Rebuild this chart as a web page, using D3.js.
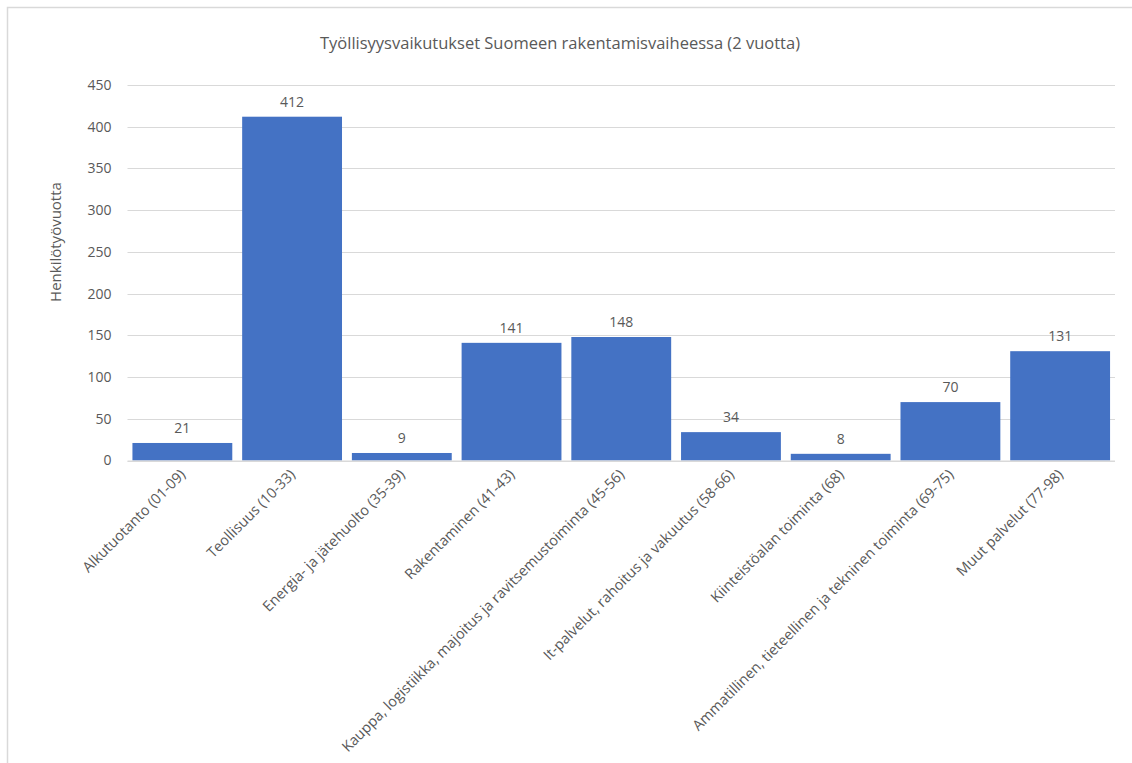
<!DOCTYPE html>
<html>
<head>
<meta charset="utf-8">
<script src="https://cdn.jsdelivr.net/npm/d3@7"></script>
<style>
  html, body { margin: 0; padding: 0; background: #fff; }
  svg { display: block; }
  text { font-family: "Open Sans", "Noto Sans", sans-serif; fill: #595959; }
</style>
</head>
<body>
<script>
const categories = [
  "Alkutuotanto (01-09)",
  "Teollisuus (10-33)",
  "Energia- ja jätehuolto (35-39)",
  "Rakentaminen (41-43)",
  "Kauppa, logistiikka, majoitus ja ravitsemustoiminta (45-56)",
  "It-palvelut, rahoitus ja vakuutus (58-66)",
  "Kiinteistöalan toiminta (68)",
  "Ammatillinen, tieteellinen ja tekninen toiminta (69-75)",
  "Muut palvelut (77-98)"
];
const values = [21, 412, 9, 141, 148, 34, 8, 70, 131];
const yTicks = [0, 50, 100, 150, 200, 250, 300, 350, 400, 450];
const title = "Työllisyysvaikutukset Suomeen rakentamisvaiheessa (2 vuotta)";
const yTitle = "Henkilötyövuotta";

const W = 1132, H = 763;
const plot = { left: 127.5, right: 1115, top: 85, bottom: 460.5 };

const svg = d3.select("body").append("svg").attr("width", W).attr("height", H);

// outer chart border (only top and left visible in frame)
svg.append("rect")
  .attr("x", 7.5).attr("y", 7.5)
  .attr("width", W + 20).attr("height", H + 20)
  .attr("fill", "none").attr("stroke", "#d9d9d9").attr("stroke-width", 1.5);

const x = d3.scaleBand().domain(categories).range([plot.left, plot.right]).paddingInner(0.09).paddingOuter(0.045);
const y = d3.scaleLinear().domain([0, 450]).range([plot.bottom, plot.top]);

// gridlines
svg.append("g").selectAll("line").data(yTicks).join("line")
  .attr("x1", plot.left).attr("x2", plot.right)
  .attr("y1", d => Math.round(y(d)) + 0.5).attr("y2", d => Math.round(y(d)) + 0.5)
  .attr("stroke", "#d9d9d9").attr("stroke-width", 1);

// y axis labels
const yAxis = d3.axisLeft(y).tickValues(yTicks).tickSize(0).tickPadding(0);
const gy = svg.append("g").attr("transform", `translate(${plot.left - 16},0)`).call(yAxis);
gy.select(".domain").remove();
gy.selectAll("text").attr("font-size", 14).attr("fill", "#595959")
  .style("font-family", '"Open Sans", sans-serif');

// bars
svg.append("g").selectAll("rect").data(values).join("rect")
  .attr("x", (d, i) => x(categories[i]))
  .attr("width", x.bandwidth())
  .attr("y", d => y(d))
  .attr("height", d => y(0) - y(d))
  .attr("fill", "#4472c4");

// baseline
svg.append("line")
  .attr("x1", plot.left).attr("x2", plot.right)
  .attr("y1", y(0) + 0.5).attr("y2", y(0) + 0.5)
  .attr("stroke", "#d9d9d9").attr("stroke-width", 1);

// value labels
svg.append("g").selectAll("text").data(values).join("text")
  .attr("x", (d, i) => x(categories[i]) + x.bandwidth() / 2)
  .attr("y", d => y(d) - 10)
  .attr("text-anchor", "middle")
  .attr("font-size", 14)
  .text(d => d);

// x axis labels
const xAxis = d3.axisBottom(x).tickSize(0).tickPadding(0);
const gx = svg.append("g").attr("transform", `translate(0,${plot.bottom})`).call(xAxis);
gx.select(".domain").remove();
gx.selectAll(".tick text")
  .attr("font-size", 14.5).attr("fill", "#595959")
  .style("font-family", '"Open Sans", sans-serif')
  .attr("text-anchor", "end")
  .attr("dy", 0).attr("y", 0)
  .attr("transform", "translate(4,15) rotate(-45)");

// title
svg.append("text")
  .attr("x", 560).attr("y", 49)
  .attr("text-anchor", "middle")
  .attr("font-size", 16.5)
  .text(title);

// y title
svg.append("text")
  .attr("transform", `translate(61,242) rotate(-90)`)
  .attr("text-anchor", "middle")
  .attr("font-size", 15)
  .text(yTitle);
</script>
</body>
</html>
